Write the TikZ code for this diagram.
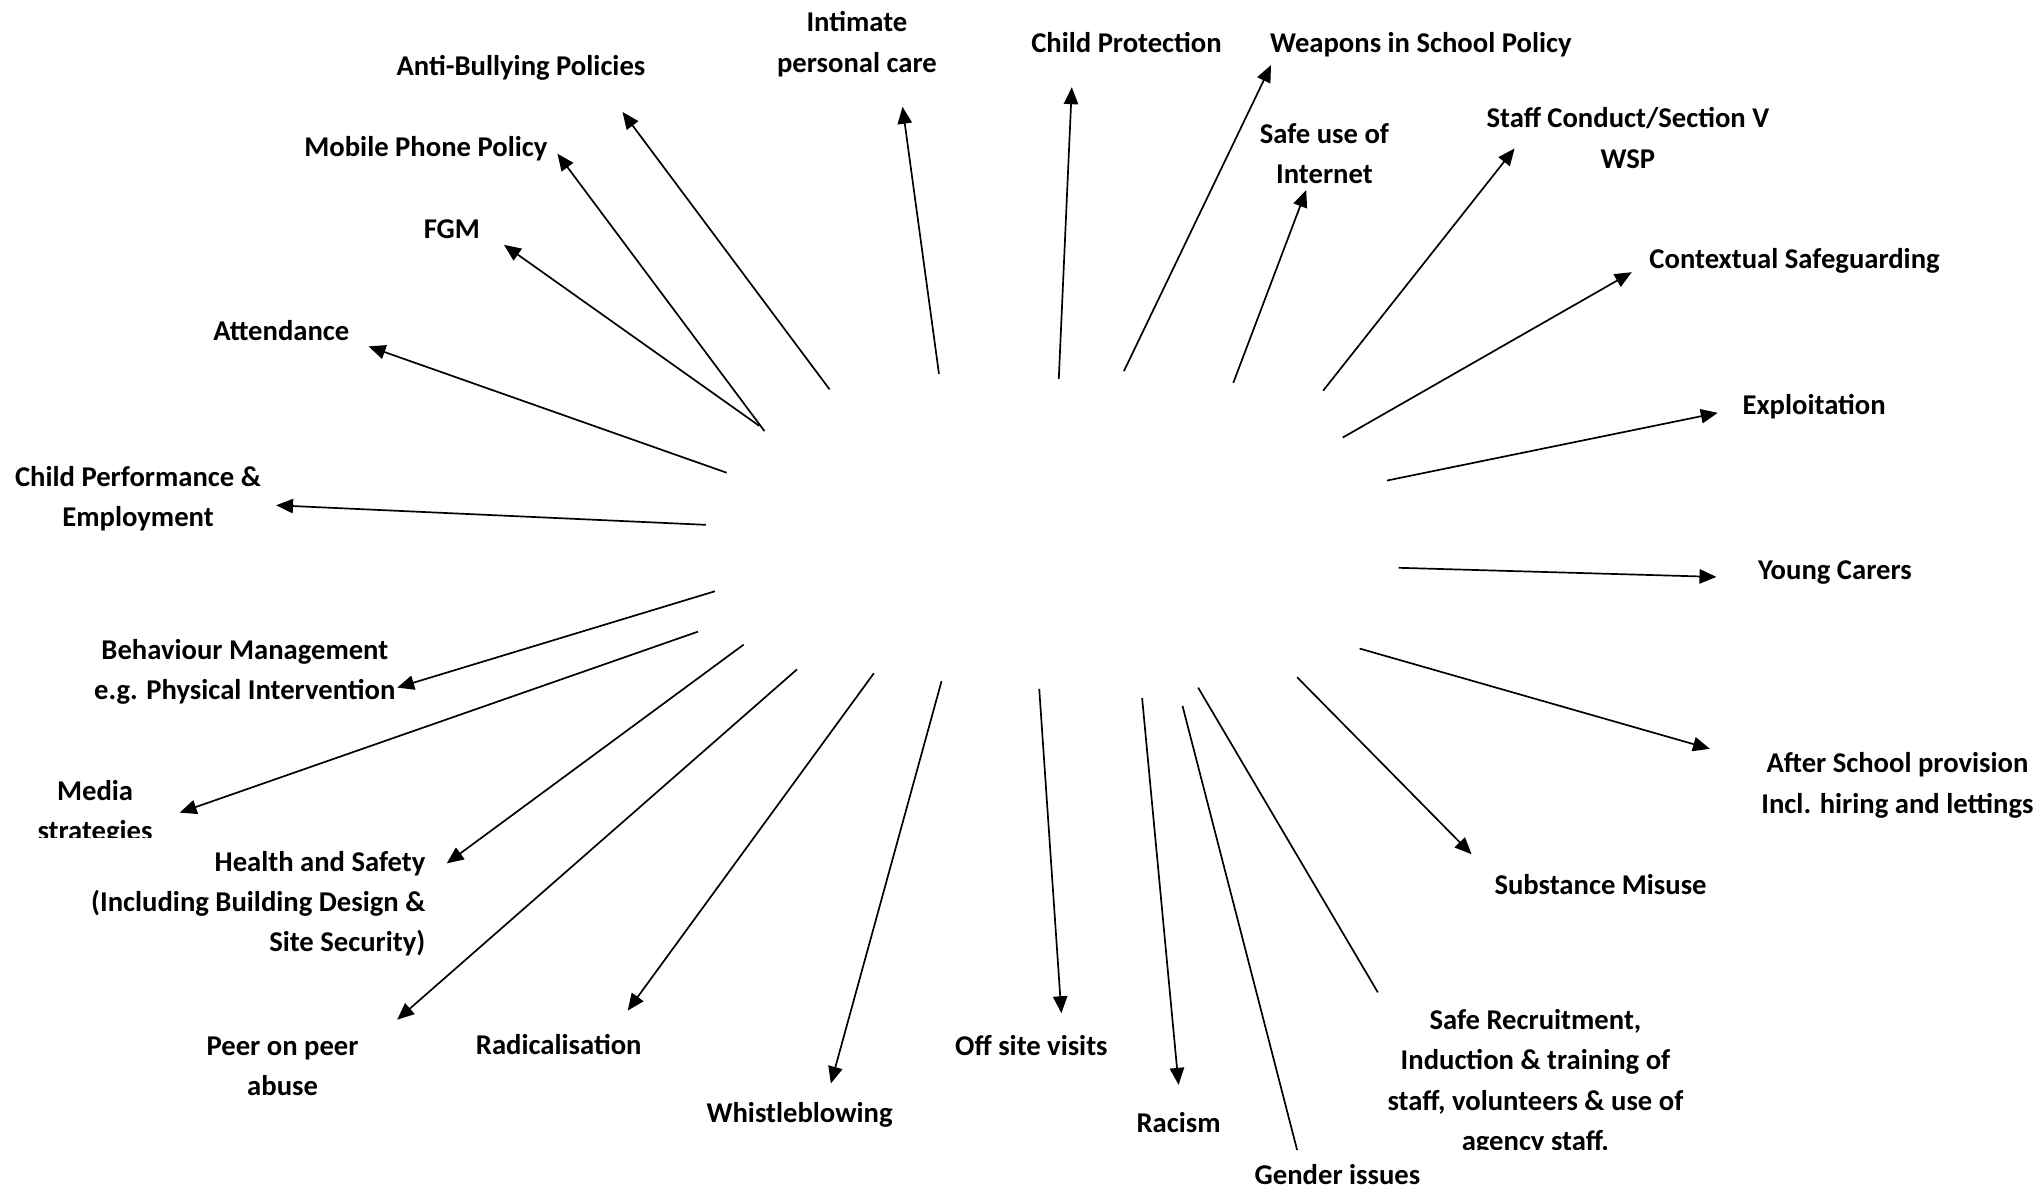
\documentclass[tikz,border=0pt]{standalone}
\usepackage{fontspec}
\setmainfont{Carlito}
\usetikzlibrary{arrows.meta}
\begin{document}
\begin{tikzpicture}[x=0.5pt,y=-0.5pt,
  lbl/.style={font=\bfseries\fontsize{11}{15.5}\selectfont, align=center, inner sep=0pt},
  conn/.style={line width=0.65pt, -{Triangle[length=6.5pt,width=5.5pt]}},
  plainconn/.style={line width=0.65pt}]
\useasboundingbox (0,0) rectangle (1568,915);
% labels
\node[lbl] (ipn) at (658,34) {Intimate\\personal care};
\node[lbl] (abn) at (400,52) {Anti-Bullying Policies};
\node[lbl] (cpn) at (865,33) {Child Protection};
\node[lbl] (wpn) at (1091,34) {Weapons in School Policy};
\node[lbl] (sin) at (1017,118) {Safe use of\\Internet};
\node[lbl] (scn) at (1250,106) {Staff Conduct/Section V\\WSP};
\node[lbl] (mpn) at (327,114) {Mobile Phone Policy};
\node[lbl] (fgn) at (347,176) {FGM};
\node[lbl] (csn) at (1378,200) {Contextual Safeguarding};
\node[lbl] (atn) at (216,254) {Attendance};
\node[lbl] (exn) at (1393,312) {Exploitation};
\node[lbl] (cpen) at (106,383) {Child Performance \&\\Employment};
\node[lbl] (ycn) at (1409,440) {Young Carers};
\node[lbl] (bmn) at (188,516) {Behaviour Management\\e.g. Physical Intervention};
\node[lbl] (asn) at (1457,603) {After School provision\\Incl. hiring and lettings};
\begin{scope}
  \clip (0,0) rectangle (1568,643);
  \node[lbl] (msn) at (73,624) {Media\\strategies};
\end{scope}
\node[lbl, align=right, anchor=east] (hsn) at (327,694) {Health and Safety\\(Including Building Design \&\\Site Security)};
\node[lbl] (smn) at (1229,679) {Substance Misuse};
\begin{scope}
  \clip (0,0) rectangle (1568,883);
  \node[lbl] (srn) at (1179,831) {Safe Recruitment,\\Induction \& training of\\staff, volunteers \& use of\\agency staff.};
\end{scope}
\node[lbl] (ppn) at (217,819) {Peer on peer\\abuse};
\node[lbl] (rdn) at (429,802) {Radicalisation};
\node[lbl] (osn) at (792,803) {Off site visits};
\node[lbl] (wbn) at (614,856) {Whistleblowing};
\node[lbl] (rcn) at (905,862) {Racism};
\node[lbl] (gin) at (1027,902) {Gender issues};
% connector ends
\coordinate (ab0) at (637,299); \coordinate (ab1) at (478,86);
\coordinate (ip0) at (721,287); \coordinate (ip1) at (693,82);
\coordinate (cp0) at (813,291); \coordinate (cp1) at (823,67);
\coordinate (wp0) at (863,285); \coordinate (wp1) at (976,50);
\coordinate (si0) at (947,294); \coordinate (si1) at (1003,146);
\coordinate (sc0) at (1016,300); \coordinate (sc1) at (1163,114);
\coordinate (cs0) at (1031,336); \coordinate (cs1) at (1253,209);
\coordinate (ex0) at (1065,369); \coordinate (ex1) at (1319,317);
\coordinate (yc0) at (1074,436); \coordinate (yc1) at (1318,443);
\coordinate (as0) at (1044,498); \coordinate (as1) at (1313,575);
\coordinate (sm0) at (996,520); \coordinate (sm1) at (1130,656);
\coordinate (sr0) at (920,528); \coordinate (sr1) at (1058,762);
\coordinate (gi0) at (908,542); \coordinate (gi1) at (996,883);
\coordinate (rc0) at (877,536); \coordinate (rc1) at (905,833);
\coordinate (os0) at (798,529); \coordinate (os1) at (815,778);
\coordinate (wb0) at (723,523); \coordinate (wb1) at (638,832);
\coordinate (rd0) at (671,517); \coordinate (rd1) at (482,776);
\coordinate (pp0) at (612,514); \coordinate (pp1) at (305,783);
\coordinate (hs0) at (571,495); \coordinate (hs1) at (343,663);
\coordinate (ms0) at (536,485); \coordinate (ms1) at (138,624);
\coordinate (bm0) at (549,454); \coordinate (bm1) at (305,528);
\coordinate (ce0) at (542,403); \coordinate (ce1) at (212,388);
\coordinate (at0) at (558,363); \coordinate (at1) at (283,266);
\coordinate (fg0) at (583,327); \coordinate (fg1) at (387,188);
\coordinate (mp0) at (587,331); \coordinate (mp1) at (428,118);
% connectors
\foreach \c in {ab,ip,cp,wp,si,sc,cs,ex,yc,as,sm,rc,os,wb,rd,pp,hs,ms,bm,ce,at,fg,mp}
  \draw[conn] (\c0) -- (\c1);
\draw[plainconn] (sr0) -- (sr1);
\draw[plainconn] (gi0) -- (gi1);
\end{tikzpicture}
\end{document}
